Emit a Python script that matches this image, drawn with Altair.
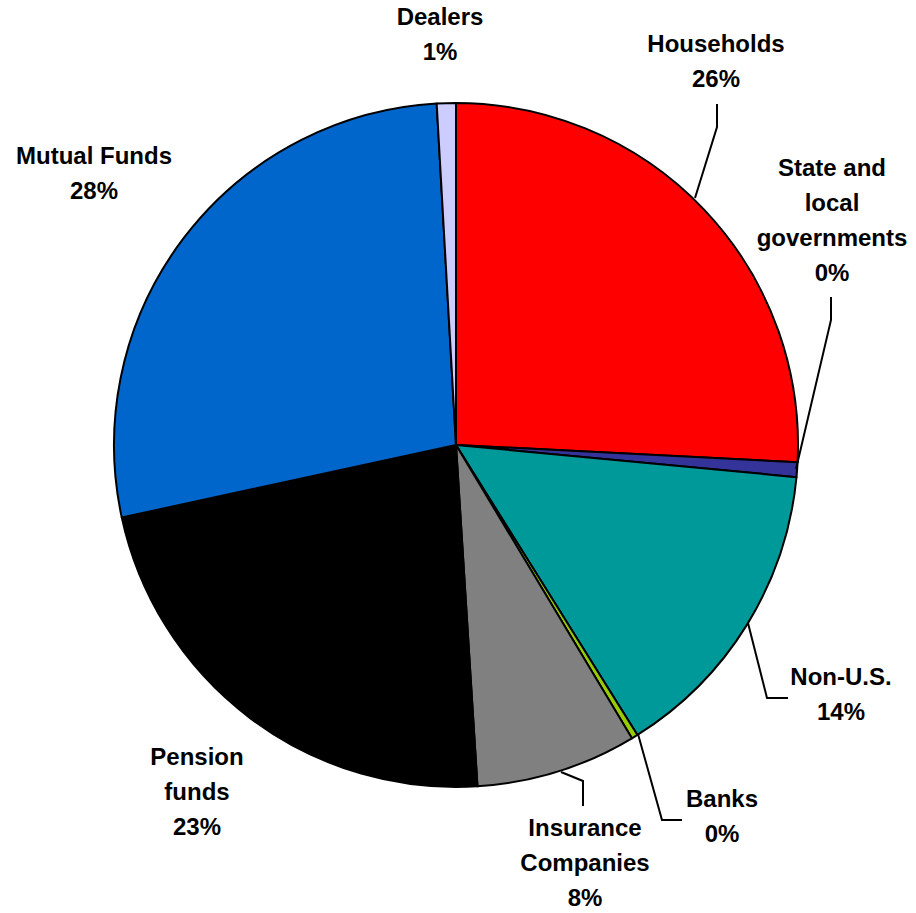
import altair as alt
import pandas as pd

# ---- data ----
sectors = ["Households", "State and local governments", "Non-U.S.", "Banks",
           "Insurance Companies", "Pension funds", "Mutual Funds", "Dealers"]
shares = [25.8, 0.7, 14.6, 0.3, 7.6, 22.6, 27.5, 0.9]
pct_labels = ["26%", "0%", "14%", "0%", "8%", "23%", "28%", "1%"]
label_lines = ["Households", "State and|local|governments", "Non-U.S.", "Banks",
               "Insurance|Companies", "Pension|funds", "Mutual Funds", "Dealers"]
colors = ["#FF0000", "#333399", "#009999", "#99CC00",
          "#808080", "#000000", "#0066CC", "#CCCCFF"]

# ---- layout (label anchors = first text line centre, and leader lines, pixels) ----
W, H = 916, 913
CX, CY, R = 456, 445, 342
label_x = [716, 832, 841, 722, 585, 197, 94, 440]
label_y = [45, 169, 678, 800, 829, 758, 157, 18]
leaders = {
    "Households": [(695, 198), (717, 127), (717, 104)],
    "State and local governments": [(796, 469), (831, 320), (831, 297)],
    "Non-U.S.": [(748, 623), (767, 698), (788, 698)],
    "Banks": [(638, 734), (662, 820), (682, 820)],
    "Insurance Companies": [(561, 772), (583, 781), (583, 806)],
}

pie_df = pd.DataFrame({
    "sector": sectors, "share": shares, "order": list(range(len(sectors))),
})
lab_df = pd.DataFrame({
    "sector": sectors,
    "text": [f"{l}|{p}" for l, p in zip(label_lines, pct_labels)],
    "x": label_x, "y": label_y,
})
rows = []
for name, pts in leaders.items():
    for i, (px, py) in enumerate(pts):
        rows.append({"sector": name, "seq": i, "x": px, "y": py})
lead_df = pd.DataFrame(rows)

xs = alt.Scale(domain=[0, W], range=[0, W])
ys = alt.Scale(domain=[0, H], range=[0, H])

pie = alt.Chart(pie_df).mark_arc(
    outerRadius=R, stroke="black", strokeWidth=2, strokeJoin="round"
).encode(
    theta=alt.Theta("share:Q", stack=True),
    order=alt.Order("order:Q"),
    color=alt.Color("sector:N", scale=alt.Scale(domain=sectors, range=colors), legend=None),
    x=alt.value(CX),
    y=alt.value(CY),
)

lines = alt.Chart(lead_df).mark_line(color="black", strokeWidth=2).encode(
    x=alt.X("x:Q", scale=xs, axis=None),
    y=alt.Y("y:Q", scale=ys, axis=None),
    detail="sector:N",
    order="seq:Q",
)

labels = alt.Chart(lab_df).mark_text(
    font="Liberation Sans", fontWeight="bold", fontSize=24, lineBreak="|",
    lineHeight=35, align="center", baseline="middle", color="black",
).encode(
    x=alt.X("x:Q", scale=xs, axis=None),
    y=alt.Y("y:Q", scale=ys, axis=None),
    text="text:N",
)

chart = alt.layer(pie, lines, labels).properties(
    width=W, height=H, padding=0, autosize=alt.AutoSizeParams(type="none"),
    background="white",
).configure_view(stroke=None)

chart.save("out.html", embed_options={"renderer": "svg", "actions": False})
